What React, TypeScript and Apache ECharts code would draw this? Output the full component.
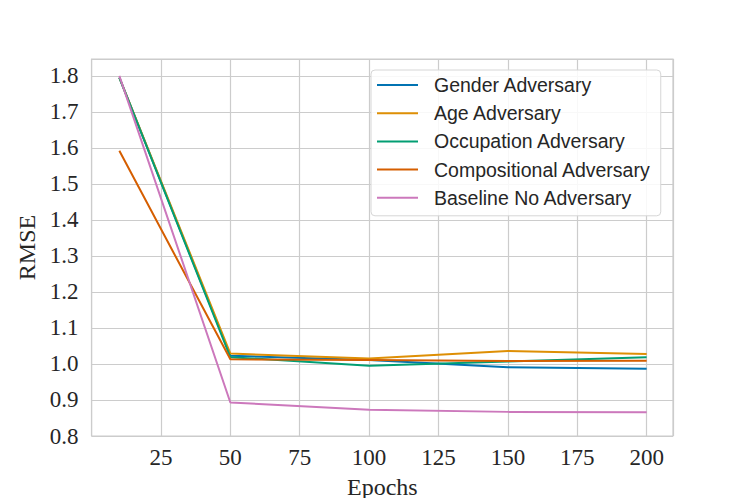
import React, { useEffect, useRef } from "react";
import * as echarts from "echarts";

const epochs = [10, 50, 100, 150, 200];
const seriesNames = [
  "Gender Adversary",
  "Age Adversary",
  "Occupation Adversary",
  "Compositional Adversary",
  "Baseline No Adversary",
];
const gender = [1.795, 1.023, 1.011, 0.991, 0.987];
const age = [1.795, 1.029, 1.015, 1.036, 1.028];
const occupation = [1.795, 1.019, 0.995, 1.007, 1.019];
const compositional = [1.592, 1.013, 1.011, 1.008, 1.009];
const baseline = [1.8, 0.893, 0.873, 0.867, 0.866];
const colors = ["#0173b2", "#de8f05", "#029e73", "#d55e00", "#cc78bc"];

export default function App() {
  const ref = useRef<HTMLDivElement>(null);
  useEffect(() => {
    const chart = echarts.init(ref.current!, null, { renderer: "svg" });
    const all = [gender, age, occupation, compositional, baseline];
    const serif = "'Liberation Serif', 'Times New Roman', serif";
    const sans = "'Liberation Sans', Arial, sans-serif";
    chart.setOption({
      animation: false,
      backgroundColor: "#ffffff",
      grid: {
        left: 91.6,
        right: 74,
        top: 59,
        bottom: 62,
        containLabel: false,
        outerBoundsMode: "none",
        show: true,
        borderColor: "#cccccc",
        borderWidth: 1.2,
      },
      legend: {
        orient: "vertical",
        left: 371,
        top: 70,
        icon: "rect",
        itemWidth: 41,
        itemHeight: 2,
        itemGap: 8.2,
        padding: [5, 10, 8, 6],
        backgroundColor: "rgba(255,255,255,0.85)",
        borderColor: "#d6d6d6",
        borderWidth: 1,
        borderRadius: 4,
        textStyle: {
          fontFamily: sans,
          fontSize: 19.5,
          color: "#262626",
          lineHeight: 19.5,
          padding: [0, 0, 0, 11],
        },
        data: seriesNames,
      },
      xAxis: {
        type: "value",
        min: 0,
        max: 209.5,
        interval: 25,
        name: "Epochs",
        nameLocation: "middle",
        nameGap: 39,
        nameTextStyle: { fontFamily: serif, fontSize: 24, color: "#262626" },
        axisLine: { show: false },
        axisTick: { show: false },
        axisLabel: {
          fontFamily: serif,
          fontSize: 23,
          color: "#262626",
          margin: 10,
          showMinLabel: false,
          showMaxLabel: false,
          formatter: (v: number) => (v === 0 ? "" : String(v)),
        },
        splitLine: { show: true, lineStyle: { color: "#cccccc", width: 1.2 } },
      },
      yAxis: {
        type: "value",
        min: 0.8,
        max: 1.847,
        interval: 0.1,
        name: "RMSE",
        nameLocation: "middle",
        nameGap: 47,
        nameTextStyle: { fontFamily: serif, fontSize: 24, color: "#262626" },
        axisLine: { show: false },
        axisTick: { show: false },
        axisLabel: {
          fontFamily: serif,
          fontSize: 23,
          color: "#262626",
          margin: 13,
          showMaxLabel: false,
          formatter: (v: number) => v.toFixed(1),
        },
        splitLine: { show: true, lineStyle: { color: "#cccccc", width: 1.2 } },
      },
      series: all.map((vals, i) => ({
        name: seriesNames[i],
        type: "line",
        showSymbol: false,
        symbol: "none",
        data: epochs.map((e, j) => [e, vals[j]]),
        lineStyle: { color: colors[i], width: 2 },
        itemStyle: { color: colors[i] },
      })),
    });
    return () => chart.dispose();
  }, []);
  return (
    <div
      ref={ref}
      style={{ position: "fixed", left: 0, top: 0, width: 747, height: 498 }}
    />
  );
}
